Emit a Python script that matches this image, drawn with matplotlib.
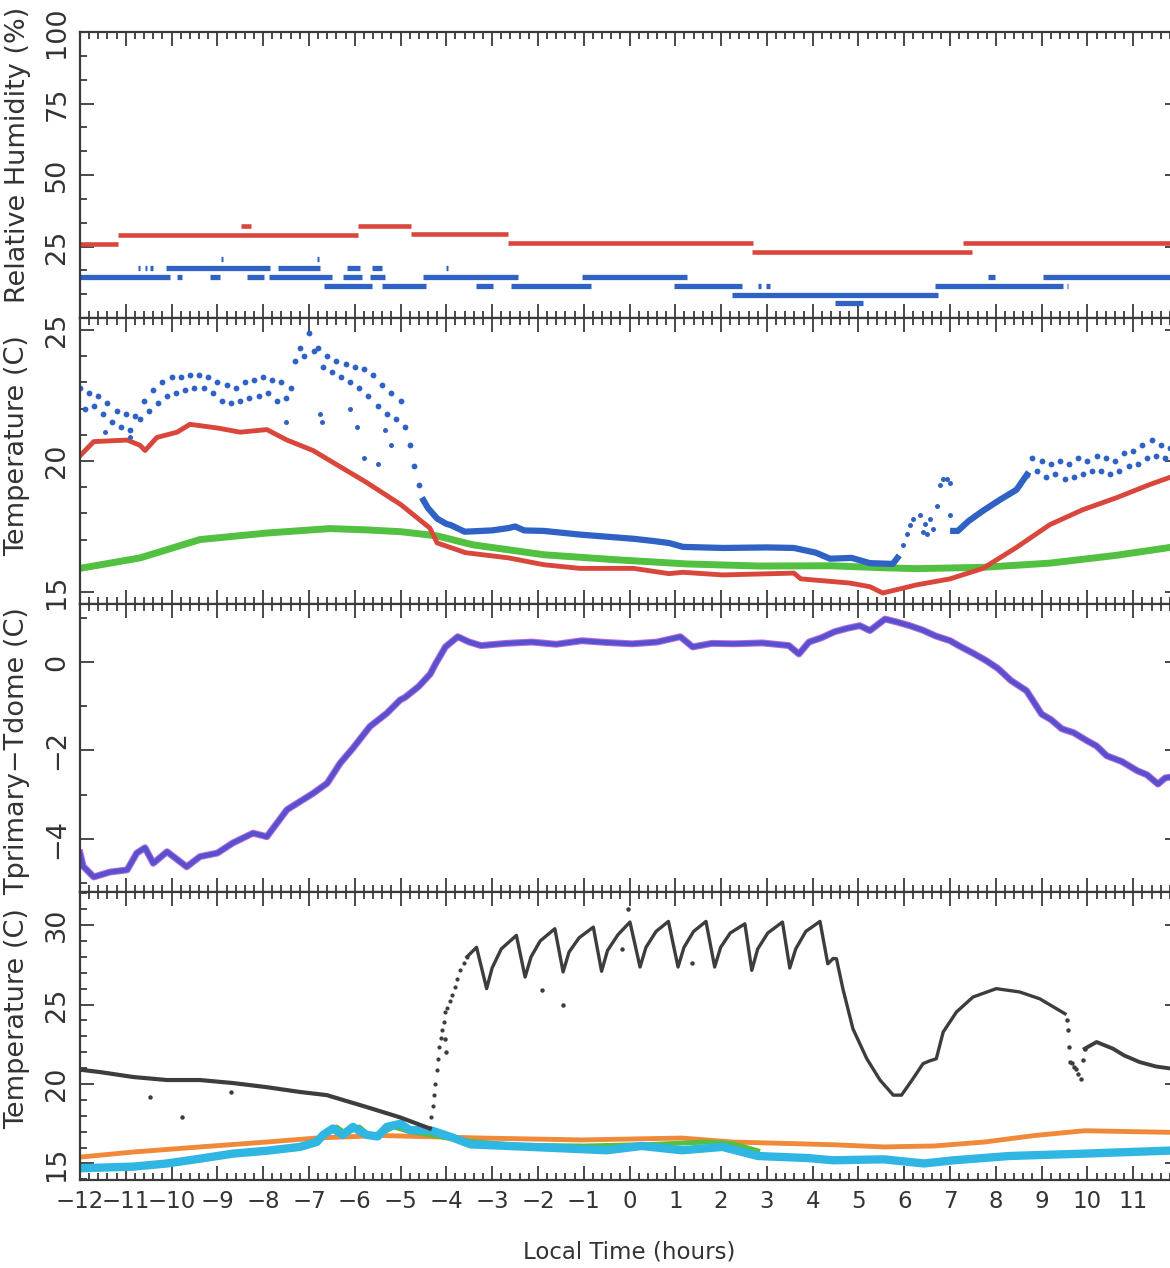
import matplotlib
matplotlib.use("Agg")
import matplotlib.pyplot as plt
from matplotlib.ticker import MultipleLocator, FixedLocator, FixedFormatter

plt.rcParams['font.family'] = ['DejaVu Sans']

# ---------------- data ----------------
# Panel 1: relative humidity (step segments)
rh_red_start = [-12.0, -11.17, -8.48, -5.93, -4.77, -2.65, 2.67, 7.28]
rh_red_end = [-11.17, -5.93, -8.27, -4.77, -2.65, 2.70, 7.48, 12.0]
rh_red_level = [25.7, 29.0, 32.2, 32.2, 29.2, 26.2, 23.2, 26.3]

rh_blue_start = [-12.0, -9.88, -9.16, -8.35, -7.87, -6.26, -5.67, -4.51, -1.04, 7.83, 9.03,
                 -10.73, -10.58, -10.47, -10.12, -7.68, -6.17, -5.62, -4.01,
                 -8.92, -6.82,
                 -6.67, -5.41, -3.35, -2.59, 0.97, 2.80, 2.99, 6.67, 9.55,
                 2.24, 4.48]
rh_blue_end = [-10.03, -9.77, -8.94, -7.98, -6.50, -5.84, -5.34, -2.44, 1.25, 7.98, 12.0,
               -10.68, -10.53, -10.41, -7.85, -6.76, -5.89, -5.41, -3.97,
               -8.88, -6.78,
               -5.62, -4.45, -2.98, -0.84, 2.45, 2.88, 3.07, 9.46, 9.58,
               6.73, 5.10]
rh_blue_level = [14.3, 14.3, 14.3, 14.3, 14.3, 14.3, 14.3, 14.3, 14.3, 14.3, 14.3,
                 17.5, 17.5, 17.5, 17.5, 17.5, 17.5, 17.5, 17.5,
                 20.6, 20.6,
                 11.2, 11.2, 11.2, 11.2, 11.2, 11.2, 11.2, 11.2, 11.2,
                 8.0, 5.2]

# Panel 2: temperatures
t2_red_h = [-12, -11.7, -10.97, -10.69, -10.58, -10.32, -9.88, -9.6, -9.0, -8.5, -7.92, -7.48,
            -6.91, -6.48, -5.76, -4.99, -4.36, -4.2, -3.58, -2.64, -1.87, -1.08, 0.09, 0.86,
            1.17, 2.04, 3.59, 3.74, 4.81, 5.25, 5.53, 6.27, 7.0, 7.72, 8.45, 9.18, 9.9, 10.64,
            11.36, 12.0]
t2_red_v = [20.2, 20.74, 20.8, 20.6, 20.4, 20.9, 21.1, 21.4, 21.26, 21.1, 21.2, 20.8,
            20.4, 19.95, 19.2, 18.33, 17.44, 16.87, 16.5, 16.3, 16.04, 15.9, 15.9, 15.7,
            15.75, 15.65, 15.72, 15.5, 15.34, 15.2, 14.96, 15.27, 15.5, 15.9, 16.7, 17.57, 18.14, 18.6,
            19.1, 19.5]

t2_green_h = [-12, -10.69, -9.38, -7.92, -6.54, -5.74, -4.99, -4.2, -3.42, -1.87, -0.3, 1.25,
              2.82, 4.38, 5.62, 6.27, 7.72, 9.18, 10.64, 12.0]
t2_green_v = [15.9, 16.3, 17.0, 17.25, 17.42, 17.37, 17.3, 17.14, 16.8, 16.42, 16.23, 16.07,
              15.99, 16.0, 15.92, 15.89, 15.94, 16.1, 16.4, 16.75]

# blue, noisy morning section
t2_blue_n1_h = [-12.0, -11.9, -11.8, -11.7, -11.6, -11.5, -11.4, -11.3, -11.2, -11.1, -11.0,
                -10.9, -10.8, -10.7, -10.6, -10.5, -10.4, -10.3, -10.2, -10.1, -10.0, -9.9,
                -9.8, -9.7, -9.6, -9.5, -9.4, -9.3, -9.2, -9.1, -9.0, -8.9, -8.8, -8.7, -8.6,
                -8.5, -8.4, -8.3, -8.2, -8.1, -8.0, -7.9, -7.8, -7.7, -7.6, -7.5, -7.4, -7.3,
                -7.2, -7.1, -7.0, -6.9, -6.8, -6.7, -6.6, -6.5, -6.4, -6.3, -6.2, -6.1, -6.0,
                -5.9, -5.8, -5.7, -5.6, -5.5, -5.4, -5.3, -5.2, -5.1, -5.0, -4.9, -4.8, -4.7,
                -4.6, -4.5]
t2_blue_n1_v = [22.8, 22.0, 22.6, 22.1, 22.5, 21.8, 22.2, 21.5, 21.9, 21.3, 21.8,
                21.2, 21.7, 21.6, 22.3, 21.9, 22.7, 22.2, 23.0, 22.5, 23.2, 22.6,
                23.2, 22.7, 23.3, 22.8, 23.3, 22.8, 23.2, 22.6, 23.0, 22.3, 22.9, 22.2, 22.8,
                22.3, 23.0, 22.4, 23.1, 22.5, 23.2, 22.6, 23.1, 22.3, 23.0, 22.4, 22.8, 23.8,
                24.3, 24.0, 24.9, 24.2, 24.3, 23.6, 24.0, 23.4, 23.8, 23.2, 23.7, 23.0, 23.6,
                22.8, 23.5, 22.5, 23.3, 22.1, 22.9, 21.8, 22.6, 21.6, 22.3, 21.3, 20.6, 19.8,
                19.1, 18.5]
# blue, noisy evening section
t2_blue_n2_h = [8.68, 8.8, 8.9, 9.0, 9.1, 9.2, 9.3, 9.4, 9.5, 9.6, 9.7, 9.8, 9.9, 10.0, 10.1,
                10.2, 10.3, 10.4, 10.5, 10.6, 10.7, 10.8, 10.9, 11.0, 11.1, 11.2, 11.3, 11.4,
                11.5, 11.6, 11.7, 11.8, 11.9, 12.0]
t2_blue_n2_v = [19.48, 20.1, 19.6, 20.0, 19.4, 19.9, 19.5, 20.0, 19.3, 19.9, 19.4, 20.1, 19.5,
                20.0, 19.6, 20.2, 19.6, 20.1, 19.5, 20.0, 19.6, 20.3, 19.8, 20.4, 19.9, 20.6,
                20.1, 20.8, 20.2, 20.6, 20.1, 20.5, 20.2, 20.4]
# blue, isolated dots
t2_blue_dot_h = [-6.75, -6.72, -5.8, -5.5, -5.2, -5.35, -7.5, -6.1, -5.95, -11.45, -10.9,
                 5.85, 5.97, 6.05, 6.12, 6.2, 6.34, 6.45, 6.56, 6.62, 6.71, 6.78, 6.85, 6.93,
                 7.0, 7.0, 6.4, 6.5]
t2_blue_dot_v = [21.8, 21.5, 20.1, 19.9, 20.6, 21.2, 21.5, 22.0, 21.3, 21.1, 20.9,
                 16.3, 16.8, 17.2, 17.57, 17.8, 17.95, 17.6, 17.8, 17.4, 18.3, 19.1, 19.3, 19.3,
                 19.16, 17.95, 17.3, 17.2]
# blue (smooth parts, line)
t2_blue_a_h = [-4.5, -4.4, -4.2, -4.0, -3.9, -3.6, -3.0, -2.64, -2.5, -2.3, -1.87, -1.08, 0.09,
               0.5, 0.86, 1.17, 2.04, 3.0, 3.59, 4.07, 4.38, 4.85, 5.25, 5.75, 5.85]
t2_blue_a_v = [18.5, 18.2, 17.8, 17.6, 17.55, 17.3, 17.35, 17.44, 17.5, 17.35, 17.33, 17.19, 17.03,
               16.95, 16.87, 16.72, 16.68, 16.7, 16.68, 16.5, 16.27, 16.3, 16.1, 16.07, 16.3]
t2_blue_b_h = [7.07, 7.17, 7.4, 7.72, 8.09, 8.45, 8.68]
t2_blue_b_v = [17.33, 17.33, 17.7, 18.1, 18.52, 18.9, 19.48]

# Panel 3: Tprimary - Tdome
d3_h = [-12, -11.93, -11.7, -11.35, -10.97, -10.76, -10.58, -10.4, -10.1, -9.67, -9.38, -9.0,
        -8.66, -8.22, -7.92, -7.48, -6.91, -6.6, -6.32, -6.04, -5.67, -5.3, -5.01, -4.9, -4.6,
        -4.35, -4.24, -4.02, -3.75, -3.5, -3.24, -2.7, -2.14, -1.6, -1.04, -0.5, 0.06, 0.6,
        1.11, 1.38, 1.8, 2.27, 2.9, 3.48, 3.7, 3.92, 4.2, 4.47, 4.75, 5.03, 5.25, 5.58, 5.85,
        6.12, 6.4, 6.68, 7.0, 7.24, 7.5, 7.79, 8.05, 8.33, 8.67, 9.0, 9.2, 9.44, 9.7, 9.99,
        10.2, 10.42, 10.75, 11.09, 11.3, 11.54, 11.7, 11.84, 12.0]
d3_v = [-4.32, -4.62, -4.86, -4.75, -4.7, -4.32, -4.2, -4.55, -4.29, -4.63, -4.4, -4.32,
        -4.09, -3.87, -3.95, -3.34, -2.97, -2.74, -2.29, -1.95, -1.46, -1.16, -0.86, -0.8, -0.55,
        -0.27, -0.05, 0.34, 0.57, 0.45, 0.37, 0.42, 0.45, 0.40, 0.48, 0.44, 0.41, 0.45,
        0.57, 0.34, 0.42, 0.41, 0.43, 0.37, 0.18, 0.45, 0.55, 0.68, 0.76, 0.82, 0.71, 0.97, 0.9,
        0.82, 0.72, 0.59, 0.48, 0.34, 0.2, 0.03, -0.15, -0.42, -0.65, -1.18, -1.3, -1.51, -1.6, -1.78,
        -1.9, -2.12, -2.25, -2.46, -2.55, -2.76, -2.62, -2.6, -2.75]

# Panel 4: temperatures
t4_blk_a_h = [-12, -11.56, -10.84, -10.1, -9.38, -8.66, -7.92, -7.2, -6.61, -6.1, -5.74, -5.01, -4.36]
t4_blk_a_v = [20.9, 20.75, 20.44, 20.25, 20.25, 20.06, 19.8, 19.5, 19.3, 18.86, 18.55, 17.9, 17.2]
t4_blk_rise_h = [-4.34, -4.3, -4.27, -4.24, -4.21, -4.18, -4.15, -4.12, -4.09, -4.06, -4.02, -3.98,
                 -3.93, -3.88, -3.82, -3.76, -3.7, -3.62, -3.55]
t4_blk_rise_v = [17.9, 18.6, 19.3, 20.0, 20.9, 21.6, 22.3, 22.9, 23.4, 23.9, 24.5, 24.8,
                 25.2, 25.6, 26.1, 26.6, 27.2, 27.6, 28.0]
t4_blk_c_h = [-3.55, -3.34, -3.12, -3.0, -2.8, -2.47, -2.28, -2.15, -1.95, -1.63, -1.45, -1.32,
              -1.1, -0.79, -0.61, -0.48, -0.25, 0.01, 0.23, 0.36, 0.58, 0.85, 1.06, 1.19, 1.4,
              1.67, 1.86, 1.99, 2.2, 2.52, 2.67, 2.8, 3.02, 3.34, 3.5, 3.63, 3.85, 4.16, 4.33,
              4.45, 4.52, 4.66, 4.88, 5.18, 5.47, 5.76, 5.94, 6.19, 6.41, 6.55, 6.7, 6.85, 7.14,
              7.5, 8.01, 8.52, 8.96, 9.51]
t4_blk_c_v = [28.0, 28.6, 26.0, 27.3, 28.5, 29.35, 26.73, 28.0, 29.0, 29.77, 27.05, 28.3,
              29.2, 29.87, 27.09, 28.4, 29.4, 30.19, 27.36, 28.6, 29.6, 30.23, 27.36, 28.6, 29.6,
              30.23, 27.36, 28.6, 29.5, 30.08, 27.15, 28.5, 29.5, 30.19, 27.3, 28.5, 29.6, 30.23, 27.56,
              27.9, 27.88, 25.99, 23.47, 21.6, 20.25, 19.3, 19.3, 20.33, 21.28, 21.45, 21.59, 23.27, 24.53,
              25.47, 26.0, 25.79, 25.36, 24.42]
t4_blk_drop_h = [9.55, 9.57, 9.6, 9.62, 9.66, 9.7, 9.76, 9.8, 9.87, 9.9, 9.94]
t4_blk_drop_v = [24.0, 23.4, 22.3, 21.4, 21.3, 21.1, 20.97, 20.6, 20.33, 21.5, 22.2]
t4_blk_e_h = [9.94, 10.2, 10.56, 10.8, 11.14, 11.5, 12.0]
t4_blk_e_v = [22.22, 22.64, 22.22, 21.8, 21.38, 21.1, 20.9]
t4_blk_out_h = [-10.47, -9.78, -8.7, -1.92, -1.45, -0.04, -0.17, 1.37, -4.0, -4.03]
t4_blk_out_v = [19.2, 17.9, 19.5, 25.9, 24.97, 31.0, 28.5, 27.6, 22.0, 22.8]

t4_orange_h = [-12, -10.84, -9.38, -7.92, -6.83, -5.45, -3.25, -1.05, 1.14, 2.25, 4.44, 5.55,
               6.65, 7.75, 8.85, 9.94, 11.05, 12.0]
t4_orange_v = [15.4, 15.72, 16.04, 16.35, 16.6, 16.76, 16.6, 16.48, 16.6, 16.35, 16.18, 16.04,
               16.1, 16.35, 16.76, 17.06, 17.0, 16.95]

t4_green_h = [-6.83, -6.61, -6.4, -6.2, -5.9, -5.66, -5.35, -5.15, -4.8, -4.35, -3.7, -2.5,
              -1.0, 0.5, 1.7, 2.25, 2.8]
t4_green_v = [16.5, 16.9, 17.3, 16.9, 17.3, 16.7, 17.0, 17.3, 17.0, 16.8, 16.45, 16.15,
              16.1, 16.2, 16.35, 16.25, 15.8]

t4_cyan_h = [-12, -10.84, -10.1, -9.38, -8.66, -7.92, -7.2, -6.83, -6.69, -6.48, -6.26, -6.04,
             -5.74, -5.5, -5.3, -5.0, -4.8, -4.35, -3.9, -3.47, -2.15, -0.5, 0.27, 1.14, 2.03,
             2.8, 3.9, 4.44, 5.55, 6.43, 7.08, 8.3, 9.94, 12.0]
t4_cyan_v = [14.7, 14.8, 15.0, 15.3, 15.62, 15.8, 16.04, 16.35, 16.8, 17.2, 16.8, 17.3,
             16.8, 16.7, 17.3, 17.5, 17.1, 17.1, 16.67, 16.2, 16.04, 15.83, 16.1, 15.83, 16.04,
             15.47, 15.34, 15.2, 15.26, 15.0, 15.2, 15.47, 15.62, 15.83]

xtick_values = list(range(-12, 13))
xtick_labels = ['\u2212' + str(-v) if v < 0 else str(v) for v in range(-12, 12)] + ['']

ylabels = ['Relative Humidity (%)', 'Temperature (C)', 'Tprimary\u2212Tdome (C)', 'Temperature (C)']

# ---------------- figure ----------------
W, H = 1170, 1268
fig = plt.figure(figsize=(W / 100, H / 100), dpi=100)
left = 80 / W
width = 1099 / W
bounds = [(32, 318), (318, 604), (604, 892), (892, 1180)]
axes = []
for top, bot in bounds:
    ax = fig.add_axes([left, 1 - bot / H, width, (bot - top) / H])
    axes.append(ax)

RED = '#d9473c'
BLUE = '#2f62c4'
GREEN = '#52c040'
PURPLE = '#5751cf'
DARK = '#3d3d3d'
ORANGE = '#f0893a'
CYAN = '#2fb6e3'
SPINE = '#3a3a3a'
TXT = '#333333'

ax1, ax2, ax3, ax4 = axes
ax1.hlines(rh_red_level, rh_red_start, rh_red_end, colors=RED, lw=3.3)
ax1.hlines(rh_blue_level, rh_blue_start, rh_blue_end, colors=BLUE, lw=3.8)

ax2.plot(t2_green_h, t2_green_v, color=GREEN, lw=5)
ax2.plot(t2_red_h, t2_red_v, color=RED, lw=3.5)
ax2.plot(t2_blue_a_h, t2_blue_a_v, color=BLUE, lw=4.5)
ax2.plot(t2_blue_b_h, t2_blue_b_v, color=BLUE, lw=4.5)
ax2.plot(t2_blue_n1_h, t2_blue_n1_v, ls='none', color=BLUE, marker='o', ms=4.2, mec='none')
ax2.plot(t2_blue_n2_h, t2_blue_n2_v, ls='none', color=BLUE, marker='o', ms=4.2, mec='none')
ax2.plot(t2_blue_dot_h, t2_blue_dot_v, ls='none', marker='o', ms=3.6, color=BLUE, mec='none')

ax3.plot(d3_h, d3_v, color='#b86ad8', lw=5)
ax3.plot(d3_h, d3_v, color=PURPLE, lw=3.5)

ax4.plot(t4_orange_h, t4_orange_v, color=ORANGE, lw=3.5)
ax4.plot(t4_green_h, t4_green_v, color=GREEN, lw=3.5)
ax4.plot(t4_cyan_h, t4_cyan_v, color=CYAN, lw=6)
ax4.plot(t4_blk_a_h, t4_blk_a_v, color=DARK, lw=3)
ax4.plot(t4_blk_rise_h, t4_blk_rise_v, ls='none', marker='o', ms=2, color=DARK)
ax4.plot(t4_blk_c_h, t4_blk_c_v, color=DARK, lw=2.4)
ax4.plot(t4_blk_drop_h, t4_blk_drop_v, ls='none', marker='o', ms=2.2, color=DARK)
ax4.plot(t4_blk_e_h, t4_blk_e_v, color=DARK, lw=2.8)
ax4.plot(t4_blk_out_h, t4_blk_out_v, ls='none', marker='o', ms=2.2, color=DARK)

ylims = [(0, 100), (14.54, 25.46), (-5.2, 1.31), (13.96, 32.08)]
ymaj = [[25, 50, 75, 100], [15, 20, 25], [-4, -2, 0], [15, 20, 25, 30]]
ymin = [25 / 3, 1, 1, 1]
ylabel_ypos = [0.57, 0.555, 0.49, 0.56]

for i, ax in enumerate(axes):
    ax.set_xlim(-12, 12)
    ax.set_ylim(*ylims[i])
    ax.xaxis.set_major_locator(FixedLocator(xtick_values))
    ax.xaxis.set_minor_locator(MultipleLocator(0.2))
    ax.set_yticks(ymaj[i])
    ax.set_yticklabels([str(v).replace('-', '\u2212') for v in ymaj[i]], rotation=90,
                       va='center', ha='right', fontsize=19.5, color=TXT)
    ax.yaxis.set_minor_locator(MultipleLocator(ymin[i]))
    ax.tick_params(which='both', direction='in', top=True, bottom=True, left=True, right=True,
                   color=SPINE, width=1.3)
    ax.tick_params(which='major', length=10)
    ax.tick_params(which='minor', length=5)
    ax.tick_params(axis='y', which='major', pad=7)
    for s in ax.spines.values():
        s.set_color(SPINE)
        s.set_linewidth(1.6)
    ax.set_ylabel(ylabels[i], fontsize=19.5, color=TXT)
    ax.yaxis.set_label_coords(-0.045, ylabel_ypos[i])
    if i < 3:
        ax.set_xticklabels([])
    else:
        ax.xaxis.set_major_formatter(FixedFormatter(xtick_labels))
        ax.tick_params(axis='x', which='major', labelsize=16.5, labelcolor=TXT, pad=7)
        ax.set_xlabel('Local Time (hours)', fontsize=16.5, color=TXT, labelpad=20)

fig.savefig('out.png', dpi=100)
